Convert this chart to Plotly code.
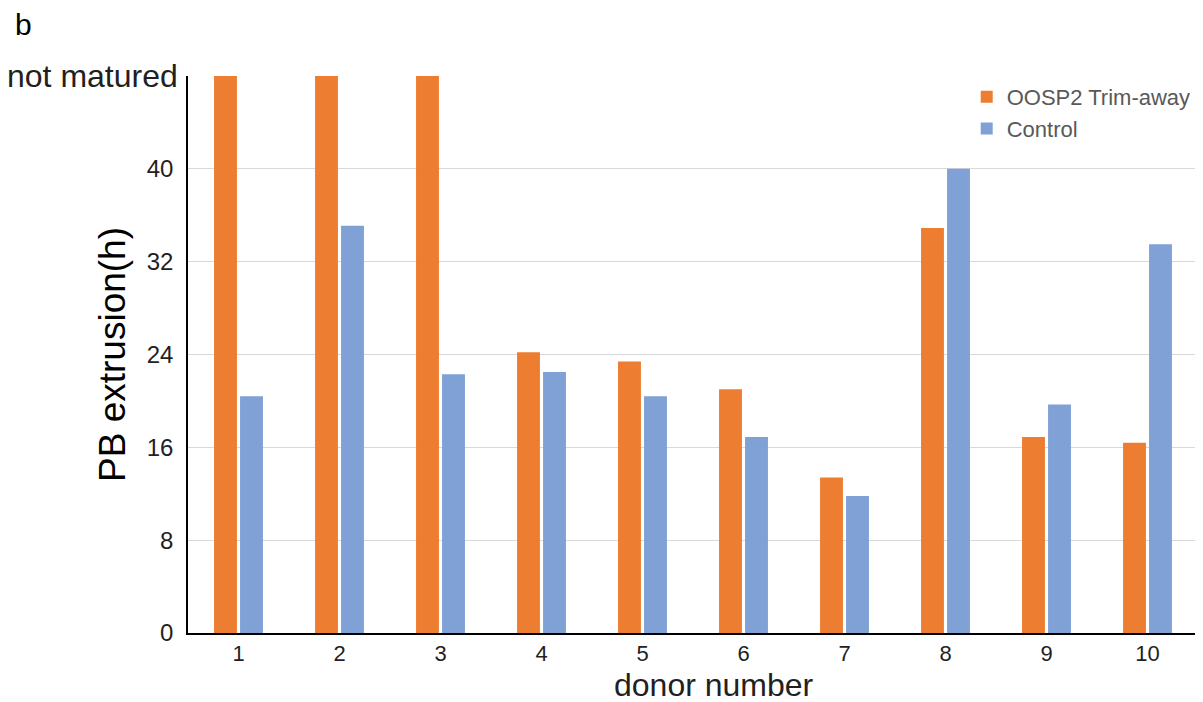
import plotly.graph_objects as go

donors = ["1", "2", "3", "4", "5", "6", "7", "8", "9", "10"]
NOT_MATURED = 48
trim_away = [48, 48, 48, 24.2, 23.4, 21.0, 13.4, 34.9, 16.9, 16.4]
control = [20.4, 35.1, 22.3, 22.5, 20.4, 16.9, 11.8, 40.0, 19.7, 33.5]
y_ticks = [0, 8, 16, 24, 32, 40]

fig = go.Figure()
fig.add_trace(go.Bar(x=donors, y=trim_away, name="OOSP2 Trim-away",
                     marker=dict(color="#ED7D31", line=dict(width=0))))
fig.add_trace(go.Bar(x=donors, y=control, name="Control",
                     marker=dict(color="#7FA1D6", line=dict(width=0))))

font_family = "Liberation Sans, Arial, sans-serif"
fig.update_layout(
    width=1195, height=694,
    paper_bgcolor="white", plot_bgcolor="white",
    margin=dict(l=180, r=5, t=68, b=69),
    barmode="group", bargap=0.485, bargroupgap=0.12,
    font=dict(family=font_family, color="#231F20"),
    showlegend=True,
    legend=dict(x=0.771, y=1.0, xanchor="left", yanchor="top",
                bgcolor="rgba(0,0,0,0)",
                font=dict(size=22, color="#595959", family=font_family),
                itemwidth=30, tracegroupgap=2),
    xaxis=dict(
        type="category",
        showline=True, linecolor="#000000", linewidth=1.5,
        ticks="", tickfont=dict(size=22, color="#231F20"),
        showgrid=False,
    ),
    yaxis=dict(
        range=[0, NOT_MATURED],
        tickvals=y_ticks + [NOT_MATURED],
        ticktext=[str(v) for v in y_ticks] + [""],
        tickfont=dict(size=24, color="#231F20"),
        showgrid=True, gridcolor="#D9D9D9", gridwidth=1.2,
        showline=True, linecolor="#000000", linewidth=1.5,
        ticks="", ticklabelstandoff=8,
        zeroline=False,
        title=dict(text="PB extrusion(h)", font=dict(size=37, color="#000000"), standoff=10),
    ),
    annotations=[
        dict(text="donor number", xref="paper", yref="paper", x=0.521, y=0,
             xanchor="center", yanchor="middle", yshift=-52, showarrow=False,
             height=34, valign="middle", borderpad=0,
             font=dict(size=32, color="#231F20")),
        dict(text="not matured", xref="paper", yref="y", x=0, y=NOT_MATURED,
             xanchor="right", yanchor="middle", xshift=-8, showarrow=False,
             font=dict(size=32, color="#231F20")),
        dict(text="b", xref="paper", yref="paper", x=-0.173, y=1.093,
             xanchor="left", yanchor="middle", showarrow=False,
             font=dict(size=30, color="#000000")),
    ],
)

fig.write_html("out.html")
